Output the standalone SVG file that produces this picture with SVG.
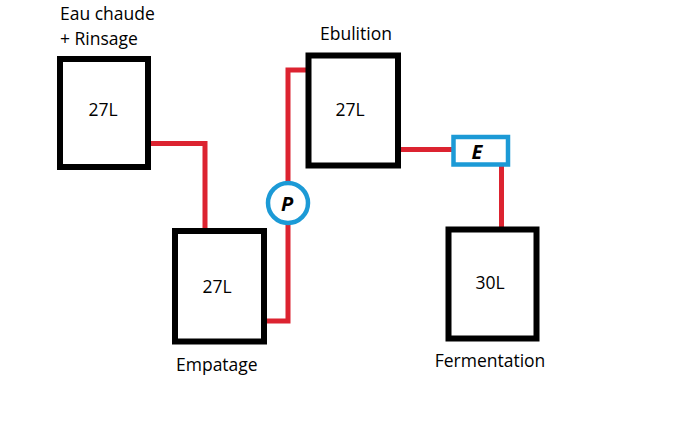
<svg xmlns="http://www.w3.org/2000/svg" width="674" height="446" viewBox="0 0 674 446">
<style>
.tank{fill:none;stroke:#000;stroke-width:6}
.pipe{fill:none;stroke:#dc2330;stroke-width:5}
.dev{fill:#fff;stroke:#1c9ad6;stroke-width:4.5}
text{font-family:"Open Sans","Liberation Sans",sans-serif;font-size:17.5px;fill:#000}
.c{text-anchor:middle}
.b{font-weight:bold;font-style:italic;font-size:20px}
</style>
<rect width="674" height="446" fill="#fff"/>
<g id="connectors">
<polyline class="pipe" points="148,143.5 205,143.5 205,231"/>
<polyline class="pipe" points="264,321 288,321 288,223"/>
<polyline class="pipe" points="288,183 288,70 308.5,70"/>
<polyline class="pipe" points="398,149.5 453.5,149.5"/>
<polyline class="pipe" points="501.5,164.5 501.5,229.5"/>
</g>
<g id="eau-chaude">
<rect class="tank" x="60" y="59" width="88" height="108"/>
<text x="60" y="20">Eau chaude</text>
<text x="60" y="44.5">+ Rinsage</text>
<text class="c" x="103" y="116">27L</text>
</g>
<g id="empatage">
<rect class="tank" x="175" y="231" width="89" height="110.5"/>
<text class="c" x="217" y="293">27L</text>
<text x="176" y="370.5">Empatage</text>
</g>
<g id="pompe">
<circle class="dev" cx="288" cy="203" r="20"/>
<text class="c b" x="287" y="210.5">P</text>
</g>
<g id="ebulition">
<rect class="tank" x="308.5" y="55.5" width="89.5" height="110"/>
<text class="c" x="356" y="40">Ebulition</text>
<text class="c" x="350" y="116">27L</text>
</g>
<g id="echangeur">
<rect class="dev" x="453.5" y="137" width="54.5" height="27.5"/>
<text class="c b" x="477" y="158.5">E</text>
</g>
<g id="fermentation">
<rect class="tank" x="448.5" y="229.5" width="88" height="109"/>
<text class="c" x="490" y="289">30L</text>
<text class="c" x="490" y="366.5">Fermentation</text>
</g>
</svg>
